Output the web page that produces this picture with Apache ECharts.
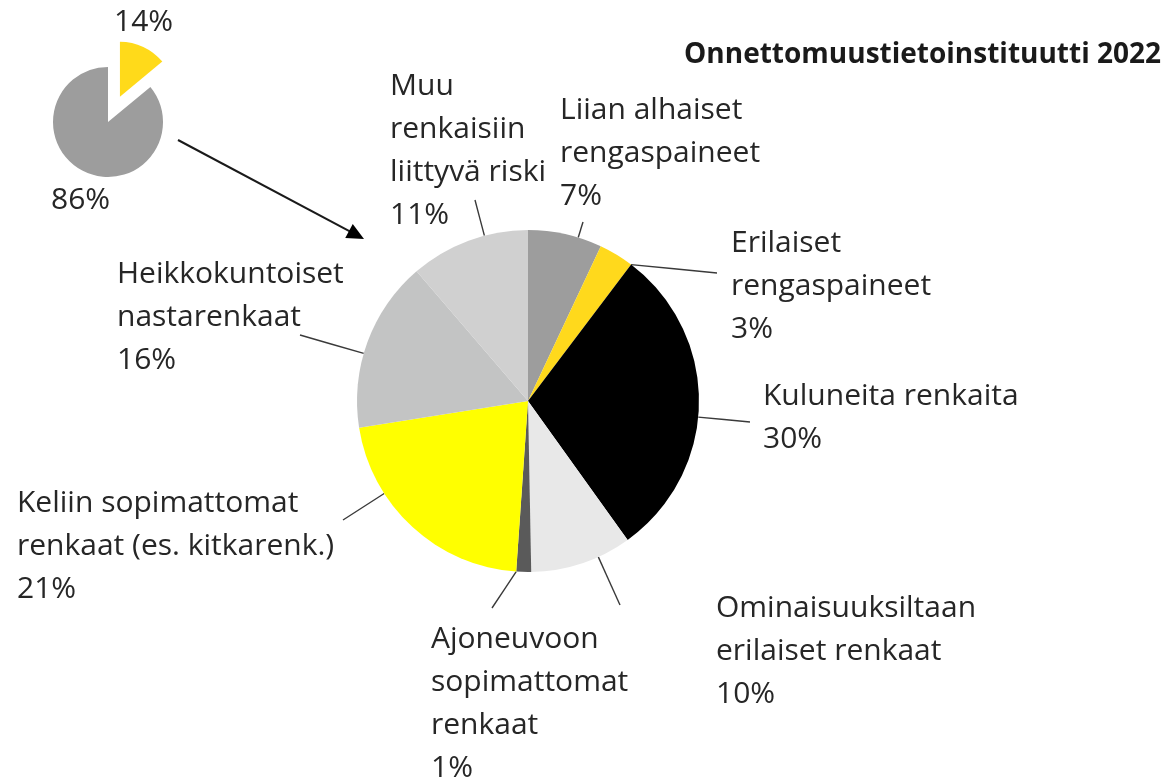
<!DOCTYPE html>
<html>
<head>
<meta charset="utf-8">
<script src="https://cdn.jsdelivr.net/npm/echarts@6/dist/echarts.min.js"></script>
<style>
html,body{margin:0;padding:0;background:#fff;}
#chart{width:1171px;height:783px;}
</style>
</head>
<body>
<div id="chart"></div>
<script>
// ---- data ----
const titleText = 'Onnettomuustietoinstituutti 2022';
const categories = [
  'Liian alhaiset\nrengaspaineet',
  'Erilaiset\nrengaspaineet',
  'Kuluneita renkaita',
  'Ominaisuuksiltaan\nerilaiset renkaat',
  'Ajoneuvoon\nsopimattomat\nrenkaat',
  'Keliin sopimattomat\nrenkaat (es. kitkarenk.)',
  'Heikkokuntoiset\nnastarenkaat',
  'Muu\nrenkaisiin\nliittyvä riski'
];
const values = [7.0, 3.3, 29.8, 9.6, 1.4, 21.4, 16.2, 11.3];
const smallCategories = ['Osuus A', 'Osuus B'];
const smallValues = [14, 86];

// ---- styles / layout ----
const mainColors = ['#9d9d9d', '#ffd91c', '#000000', '#e8e8e8', '#5a5a5a', '#ffff00', '#c3c4c4', '#d0d0d0'];
const smallColors = ['#ffda1a', '#9d9d9d'];
// label block top-left [x, y] and leader-line end [lx, ly]
const mainLabelPos = [
  [560, 89, 583, 222],
  [731, 222, 717, 273],
  [763, 375, 750, 422],
  [716, 587, 620, 605],
  [431, 618, 492, 608],
  [17, 482, 343, 520],
  [117, 253, 300, 335],
  [390, 65, 475, 200]
];
const smallLabelPos = [[114, 1], [51, 179]];
const smallCenter = [108, 122], smallRadius = 55, explodeOffset = 28;
const textColor = '#262626';
const fontFamily = '"Open Sans", "Noto Sans", sans-serif';
const clear = 'rgba(0,0,0,0)';

const chart = echarts.init(document.getElementById('chart'), null, {renderer: 'canvas'});

function leaderPoints(idx, ex, ey) {
  const lay = chart.getModel().getSeriesByIndex(0).getData().getItemLayout(idx);
  const cx = lay.cx, cy = lay.cy, r = lay.r;
  let s = Math.min(lay.startAngle, lay.endAngle), e = Math.max(lay.startAngle, lay.endAngle);
  let a = Math.atan2(ey - cy, ex - cx);
  while (a < s) a += Math.PI * 2;
  while (a > s + Math.PI * 2) a -= Math.PI * 2;
  if (a > e) {
    const dEnd = a - e;
    const dStart = (s + Math.PI * 2) - a;
    a = dEnd < dStart ? e : s;
  }
  const sx = cx + r * Math.cos(a), sy = cy + r * Math.sin(a);
  return [[sx, sy], [(sx + ex) / 2, (sy + ey) / 2], [ex, ey]];
}

// exploded slice offset along its bisector
const smallTotal = smallValues.reduce((a, b) => a + b, 0);
const bis = (90 - 0.5 * smallValues[0] / smallTotal * 360) * Math.PI / 180;
const explodedCenter = [smallCenter[0] + explodeOffset * Math.cos(bis), smallCenter[1] - explodeOffset * Math.sin(bis)];

// arrow geometry
const arrowFrom = [178, 140], arrowTo = [364, 239];
const adx = arrowTo[0] - arrowFrom[0], ady = arrowTo[1] - arrowFrom[1];
const alen = Math.sqrt(adx * adx + ady * ady);
const ux = adx / alen, uy = ady / alen;
const headL = 17, headW = 8;
const baseX = arrowTo[0] - ux * headL, baseY = arrowTo[1] - uy * headL;

const smallLabel = {
  show: true,
  position: 'outside',
  formatter: p => Math.round(p.percent) + '%',
  fontFamily: fontFamily,
  fontSize: 30,
  lineHeight: 43,
  color: textColor
};
function smallLayout(params) {
  const p = smallLabelPos[params.dataIndex];
  return {x: p[0], y: p[1], align: 'left', verticalAlign: 'top'};
}

const option = {
  animation: false,
  backgroundColor: '#ffffff',
  title: {
    text: titleText,
    right: 5,
    top: 36,
    textStyle: {fontFamily: fontFamily, fontWeight: 'bold', fontSize: 28, color: '#1a1a1a'}
  },
  graphic: [
    {type: 'line', shape: {x1: arrowFrom[0], y1: arrowFrom[1], x2: baseX + ux * 2, y2: baseY + uy * 2},
     style: {stroke: '#1a1a1a', lineWidth: 2}},
    {type: 'polygon', shape: {points: [
      [arrowTo[0], arrowTo[1]],
      [baseX - uy * headW, baseY + ux * headW],
      [baseX + uy * headW, baseY - ux * headW]
    ]}, style: {fill: '#000'}}
  ],
  series: [
    {
      type: 'pie',
      center: [528, 401],
      radius: 171,
      startAngle: 90,
      clockwise: true,
      avoidLabelOverlap: false,
      silent: true,
      data: categories.map((c, i) => ({name: c, value: values[i], itemStyle: {color: mainColors[i]}})),
      itemStyle: {borderWidth: 0},
      label: {
        show: true,
        position: 'outside',
        formatter: p => p.name + '\n' + Math.round(p.percent) + '%',
        fontFamily: fontFamily,
        fontSize: 30,
        lineHeight: 43,
        color: textColor
      },
      labelLine: {show: true, lineStyle: {color: '#3a3a3a', width: 1.4}},
      labelLayout: function (params) {
        const p = mainLabelPos[params.dataIndex];
        return {
          x: p[0], y: p[1], align: 'left', verticalAlign: 'top',
          labelLinePoints: leaderPoints(params.dataIndex, p[2], p[3])
        };
      },
      emphasis: {disabled: true}
    },
    {
      // small pie: remaining share
      type: 'pie',
      center: smallCenter,
      radius: smallRadius,
      startAngle: 90,
      clockwise: true,
      silent: true,
      avoidLabelOverlap: false,
      data: smallCategories.map((c, i) => ({
        name: c, value: smallValues[i],
        itemStyle: {color: i === 1 ? smallColors[1] : clear},
        label: {show: i === 1}
      })),
      label: smallLabel,
      labelLine: {show: false},
      labelLayout: smallLayout,
      emphasis: {disabled: true}
    },
    {
      // small pie: exploded share
      type: 'pie',
      center: explodedCenter,
      radius: smallRadius,
      startAngle: 90,
      clockwise: true,
      silent: true,
      avoidLabelOverlap: false,
      data: smallCategories.map((c, i) => ({
        name: c, value: smallValues[i],
        itemStyle: {color: i === 0 ? smallColors[0] : clear},
        label: {show: i === 0}
      })),
      label: smallLabel,
      labelLine: {show: false},
      labelLayout: smallLayout,
      emphasis: {disabled: true}
    }
  ]
};
chart.setOption(option);
</script>
</body>
</html>
